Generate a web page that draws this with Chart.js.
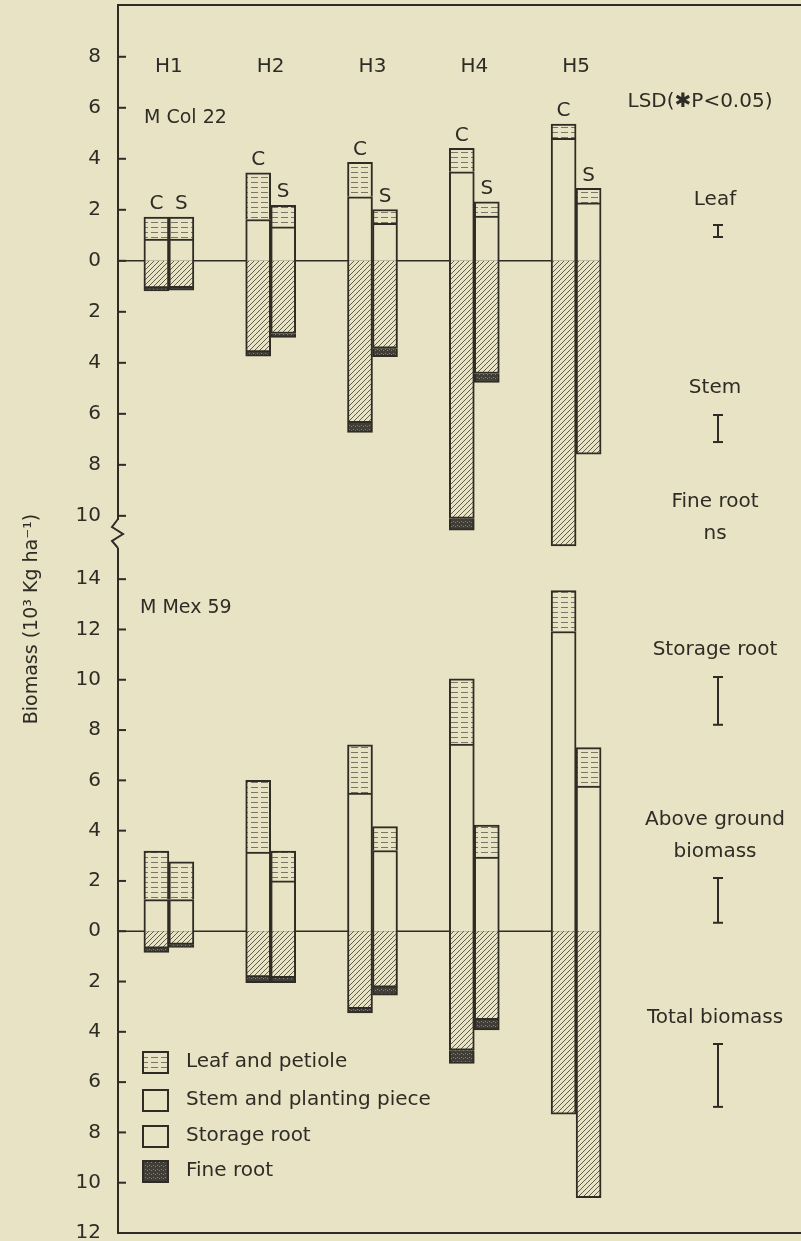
<!DOCTYPE html>
<html>
<head>
<meta charset="utf-8">
<script src="https://cdn.jsdelivr.net/npm/chart.js@4.4.1/dist/chart.umd.min.js"></script>
<style>
  html, body { margin: 0; padding: 0; background: #e8e3c4; }
  #wrap { position: relative; width: 801px; height: 1241px; }
</style>
</head>
<body>
<div id="wrap"><canvas id="biomass"></canvas></div>
<script>
const harvests = ["H1", "H2", "H3", "H4", "H5"];

// M Col 22 (10^3 kg/ha, below-ground parts negative)
const colStemC = [0.85, 1.62, 2.51, 3.49, 4.80];
const colLeafC = [0.86, 1.83, 1.35, 0.92, 0.56];
const colStorageC = [-1.06, -3.57, -6.35, -10.10, -11.18];
const colFineC = [-0.12, -0.17, -0.38, -0.46, null];
const colStemS = [0.85, 1.33, 1.47, 1.75, 2.27];
const colLeafS = [0.86, 0.85, 0.54, 0.56, 0.57];
const colStorageS = [-1.05, -2.85, -3.43, -4.42, -7.58];
const colFineS = [-0.10, -0.15, -0.33, -0.35, null];

// M Mex 59
const mexStemC = [1.26, 3.15, 5.49, 7.44, 11.92];
const mexLeafC = [1.93, 2.85, 1.92, 2.60, 1.63];
const mexStorageC = [-0.67, -1.82, -3.08, -4.73, -7.27];
const mexFineC = [-0.17, -0.23, -0.17, -0.53, null];
const mexStemS = [1.26, 2.00, 3.21, 2.95, 5.77];
const mexLeafS = [1.50, 1.19, 0.95, 1.27, 1.53];
const mexStorageS = [-0.52, -1.85, -2.22, -3.52, -10.60];
const mexFineS = [-0.12, -0.20, -0.32, -0.40, null];

const topTicks = [8, 6, 4, 2, 0, -2, -4, -6, -8, -10];
const bottomTicks = [14, 12, 10, 8, 6, 4, 2, 0, -2, -4, -6, -8, -10, -12];

const lsdLabels = [["Leaf"], ["Stem"], ["Fine root", "ns"], ["Storage root"], ["Above ground", "biomass"], ["Total biomass"]];
const lsdValues = [0.47, 1.06, null, 1.9, 1.78, 2.5];

const legendLabels = ["Leaf and petiole", "Stem and planting piece", "Storage root", "Fine root"];

const PAPER = "#e8e3c4";
const INK = "#2e2c25";
const FONT = "'DejaVu Sans', sans-serif";

const canvas = document.getElementById("biomass");
const ctx = canvas.getContext("2d");

function tile(w, h, draw) {
  const c = document.createElement("canvas");
  c.width = w;
  c.height = h;
  const g = c.getContext("2d");
  g.fillStyle = PAPER;
  g.fillRect(0, 0, w, h);
  draw(g);
  return ctx.createPattern(c, "repeat");
}

const fills = {
  stem: PAPER,
  leaf: tile(10, 5, g => {
    g.strokeStyle = "rgba(60,58,50,0.65)";
    g.lineWidth = 1;
    g.beginPath(); g.moveTo(1, 2.5); g.lineTo(8, 2.5); g.stroke();
  }),
  storage: tile(5, 5, g => {
    g.strokeStyle = "rgba(70,68,58,0.85)";
    g.lineWidth = 1;
    g.beginPath();
    g.moveTo(0, 5); g.lineTo(5, 0);
    g.moveTo(-1, 1); g.lineTo(1, -1);
    g.moveTo(4, 6); g.lineTo(6, 4);
    g.stroke();
  }),
  fine: tile(4, 4, g => {
    g.fillStyle = "#403e36";
    g.fillRect(0, 0, 4, 4);
    g.fillStyle = "#86826f";
    g.fillRect(1, 1, 1, 1);
    g.fillRect(3, 2, 1, 1);
  })
};

function bars(axis, stack, part, data) {
  return {
    data,
    part,
    stack,
    yAxisID: axis,
    backgroundColor: fills[part],
    borderColor: INK,
    borderWidth: 2,
    borderSkipped: "start",
    barThickness: 25
  };
}

const datasets = [
  bars("yT", "C", "stem", colStemC), bars("yT", "C", "leaf", colLeafC),
  bars("yT", "C", "storage", colStorageC), bars("yT", "C", "fine", colFineC),
  bars("yT", "S", "stem", colStemS), bars("yT", "S", "leaf", colLeafS),
  bars("yT", "S", "storage", colStorageS), bars("yT", "S", "fine", colFineS),
  bars("yB", "C", "stem", mexStemC), bars("yB", "C", "leaf", mexLeafC),
  bars("yB", "C", "storage", mexStorageC), bars("yB", "C", "fine", mexFineC),
  bars("yB", "S", "stem", mexStemS), bars("yB", "S", "leaf", mexLeafS),
  bars("yB", "S", "storage", mexStorageS), bars("yB", "S", "fine", mexFineS)
];

function yScale(min, max, ticks, weight, stackWeight) {
  return {
    type: "linear",
    position: "left",
    stack: "biomass",
    stackWeight,
    weight,
    min,
    max,
    afterBuildTicks: s => { s.ticks = ticks.map(value => ({ value })); },
    afterFit: s => {
      s.width = 118;
      s.paddingTop = 0;
      s.paddingBottom = 0;
    },
    grid: { display: false },
    border: { display: true, color: INK, width: 2 },
    ticks: {
      autoSkip: false,
      padding: 9,
      color: INK,
      font: { family: FONT, size: 20 },
      callback: v => Math.abs(v)
    }
  };
}

function line(x1, y1, x2, y2, w) {
  ctx.lineWidth = w || 2;
  ctx.beginPath();
  ctx.moveTo(x1, y1);
  ctx.lineTo(x2, y2);
  ctx.stroke();
}

function text(str, x, y, size, align) {
  ctx.font = `${size}px ${FONT}`;
  ctx.textAlign = align || "center";
  ctx.textBaseline = "middle";
  ctx.fillText(str, x, y);
}

function iBar(x, top, len) {
  line(x, top, x, top + len, 2);
  line(x - 5, top, x + 5, top, 2);
  line(x - 5, top + len, x + 5, top + len, 2);
}

const figure = {
  id: "figure",
  beforeDraw(chart) {
    ctx.save();
    ctx.fillStyle = PAPER;
    ctx.fillRect(0, 0, chart.width, chart.height);
    ctx.restore();
  },
  beforeDatasetsDraw(chart) {
    const area = chart.chartArea;
    const lastBar = chart.getDatasetMeta(6).data[4];
    const right = lastBar.x + lastBar.width / 2;
    ctx.save();
    ctx.strokeStyle = INK;
    ["yT", "yB"].forEach(id => {
      const y0 = chart.scales[id].getPixelForValue(0);
      line(area.left, y0, right, y0, 1.5);
    });
    ctx.restore();
  },
  afterDraw(chart) {
    const area = chart.chartArea;
    const x = chart.scales.x;
    const yT = chart.scales.yT;
    const yB = chart.scales.yB;
    ctx.save();
    ctx.strokeStyle = INK;
    ctx.fillStyle = INK;

    // frame
    line(area.left - 1, area.top, chart.width, area.top, 2);
    line(area.left - 1, area.bottom, chart.width, area.bottom, 2);

    // inward tick marks
    [yT, yB].forEach(s => {
      s.ticks.forEach(t => {
        const y = s.getPixelForValue(t.value);
        line(area.left, y, area.left + 8, y, 2);
      });
    });

    // axis break
    const brk = yT.bottom;
    ctx.fillStyle = PAPER;
    ctx.fillRect(area.left - 3, brk - 29, 6, 28);
    ctx.fillStyle = INK;
    ctx.lineWidth = 2;
    ctx.beginPath();
    ctx.moveTo(area.left, brk - 30);
    ctx.lineTo(area.left - 6, brk - 22);
    ctx.lineTo(area.left + 5, brk - 15);
    ctx.lineTo(area.left - 6, brk - 8);
    ctx.lineTo(area.left, brk - 1);
    ctx.stroke();

    // y title
    ctx.save();
    ctx.translate(32, (area.top + area.bottom) / 2);
    ctx.rotate(-Math.PI / 2);
    text("Biomass (10³ Kg ha⁻¹)", 0, 0, 19);
    ctx.restore();

    // harvest labels and C / S marks
    harvests.forEach((h, i) => text(h, x.getPixelForValue(i), 67, 20));
    [1, 5].forEach(idx => {
      const meta = chart.getDatasetMeta(idx);
      meta.data.forEach(el => text(chart.data.datasets[idx].stack, el.x, el.y - 13, 20));
    });

    text("M Col 22", area.left + 26, 118, 19, "left");
    text("M Mex 59", area.left + 22, 608, 19, "left");

    // LSD column
    const cx = 715;
    text("LSD(✱P<0.05)", 700, 102, 20);
    const lsdPlace = [
      { y: 200, bar: 225, s: yT },
      { y: 388, bar: 415, s: yT },
      { y: 502, bar: null, s: yT },
      { y: 650, bar: 677, s: yB },
      { y: 820, bar: 878, s: yB },
      { y: 1018, bar: 1044, s: yB }
    ];
    lsdLabels.forEach((lines, i) => {
      const p = lsdPlace[i];
      lines.forEach((str, k) => text(str, cx, p.y + k * 32, 20));
      if (lsdValues[i] !== null) {
        const len = Math.abs(p.s.getPixelForValue(lsdValues[i]) - p.s.getPixelForValue(0));
        iBar(cx + 3, p.bar, len);
      }
    });

    // legend
    const legendParts = ["leaf", "stem", "storage", "fine"];
    const legendTops = [1052, 1090, 1126, 1161];
    legendLabels.forEach((label, i) => {
      const top = legendTops[i];
      ctx.fillStyle = legendParts[i] === "storage" ? PAPER : fills[legendParts[i]];
      ctx.fillRect(area.left + 25, top, 25, 21);
      ctx.lineWidth = 2;
      ctx.strokeRect(area.left + 25, top, 25, 21);
      ctx.fillStyle = INK;
      text(label, area.left + 68, top + 10, 20, "left");
    });
    ctx.restore();
  }
};

new Chart(canvas, {
  type: "bar",
  data: { labels: harvests, datasets },
  options: {
    responsive: true,
    maintainAspectRatio: false,
    animation: false,
    layout: { padding: { left: 0, top: 5, right: 174, bottom: 8 } },
    plugins: { legend: { display: false }, tooltip: { enabled: false } },
    scales: {
      x: { display: false },
      yB: yScale(-12, 15.2, bottomTicks, 0, 684),
      yT: yScale(-11.3, 10.03, topTicks, 1, 544)
    }
  },
  plugins: [figure]
});
</script>
</body>
</html>
